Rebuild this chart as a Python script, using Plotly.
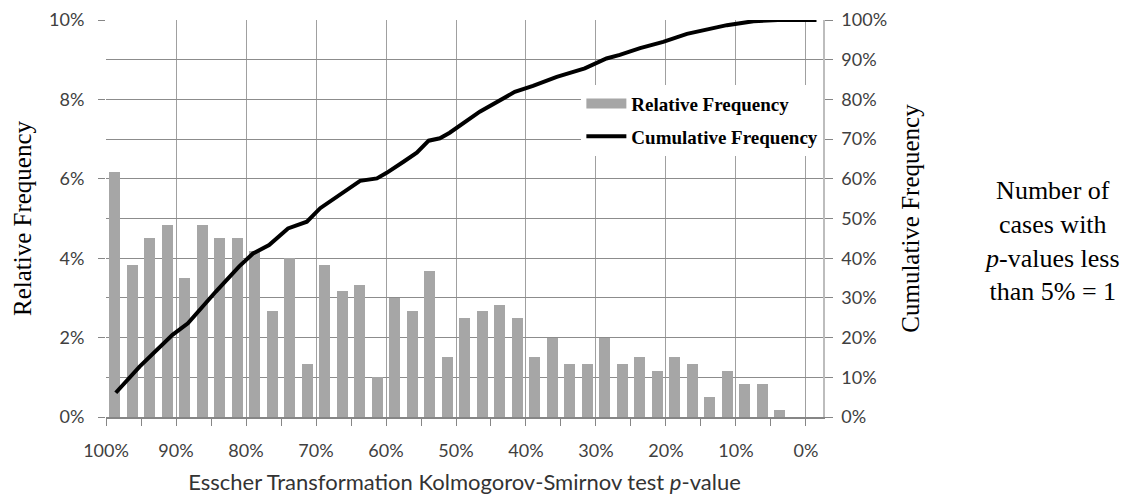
import plotly.graph_objects as go

# bin centres of the p-value histogram (in %), 2.5% wide bins
bin_centres = [98.75, 96.25, 93.75, 91.25, 88.75, 86.25, 83.75, 81.25, 78.75, 76.25,
               73.75, 71.25, 68.75, 66.25, 63.75, 61.25, 58.75, 56.25, 53.75, 51.25,
               48.75, 46.25, 43.75, 41.25, 38.75, 36.25, 33.75, 31.25, 28.75, 26.25,
               23.75, 21.25, 18.75, 16.25, 13.75, 11.25, 8.75, 6.25, 3.75, 1.25]

# relative frequency (%) per bin
rel_freq = [6.17, 3.83, 4.50, 4.83, 3.50, 4.83, 4.50, 4.50, 4.17, 2.67,
            4.00, 1.33, 3.83, 3.17, 3.33, 1.00, 3.00, 2.67, 3.67, 1.50,
            2.50, 2.67, 2.83, 2.50, 1.50, 2.00, 1.33, 1.33, 2.00, 1.33,
            1.50, 1.17, 1.50, 1.33, 0.50, 1.17, 0.83, 0.83, 0.17, 0.00]

# cumulative frequency curve (p-value %, cumulative %)
cum_p = [98.6, 95.2, 90.5, 88.3, 84.3, 81.0, 79.0, 76.7, 74.0, 71.3,
         69.4, 66.6, 63.7, 61.3, 59.9, 57.5, 55.6, 53.9, 52.3, 50.9,
         46.6, 41.6, 39.0, 35.6, 31.6, 28.5, 26.6, 23.7, 20.4, 17.0,
         11.3, 7.5, 4.0, -1.5]
cum_freq = [6.1, 12.7, 20.7, 23.6, 31.6, 37.9, 41.2, 43.3, 47.5, 49.2,
            52.6, 55.9, 59.5, 60.1, 61.5, 64.3, 66.6, 69.6, 70.2, 71.6,
            76.9, 81.9, 83.4, 85.7, 87.8, 90.3, 91.2, 92.9, 94.5, 96.5,
            98.7, 99.7, 100.0, 100.0]

BAR_GREY = "#a6a6a6"
TICK_FONT = dict(family="Lato", size=18, color="#404040")
SERIF = "Liberation Serif"

fig = go.Figure()

fig.add_trace(go.Bar(
    x=bin_centres, y=rel_freq, width=1.55,
    marker=dict(color=BAR_GREY, line=dict(width=0)),
    name="Relative Frequency", showlegend=False,
))
# legend proxy so the bar swatch is a wide grey strip like the original
fig.add_trace(go.Scatter(
    x=[None], y=[None], mode="lines",
    line=dict(color=BAR_GREY, width=10),
    name="Relative Frequency", legendgroup="rel",
))
fig.add_trace(go.Scatter(
    x=cum_p, y=cum_freq, yaxis="y2", mode="lines",
    line=dict(color="black", width=4),
    name="Cumulative Frequency", legendgroup="cum",
))

# page body has an 8px margin, so the figure is trimmed by 8px on top/left
fig.update_layout(
    width=1122, height=488,
    margin=dict(l=98, r=307, t=12, b=79),
    paper_bgcolor="white", plot_bgcolor="white",
    bargap=0,
    xaxis=dict(
        range=[100, -2.43], tick0=0, dtick=10, ticksuffix="%",
        showgrid=True, gridcolor="#a0a0a0", gridwidth=1,
        showline=True, linecolor="#868686", linewidth=1.5,
        ticks="outside", ticklen=7, tickcolor="#868686",
        minor=dict(dtick=5, ticks="outside", ticklen=7, tickcolor="#868686", showgrid=False),
        tickfont=TICK_FONT, ticklabelstandoff=10, zeroline=False, automargin=False,
        title=dict(text="Esscher Transformation Kolmogorov-Smirnov test <i>p</i>-value",
                   font=dict(family="Lato", size=22, color="#333333"), standoff=14),
    ),
    yaxis=dict(
        range=[0, 10], dtick=2, ticksuffix="%",
        showgrid=True, gridcolor="#8c8c8c", gridwidth=1,
        showline=False, zeroline=False, automargin=False,
        ticks="outside", ticklen=7, tickcolor="#868686",
        tickfont=TICK_FONT, ticklabelstandoff=10,
        title=dict(text="Relative Frequency", font=dict(family=SERIF, size=25, color="black"),
                   standoff=10),
    ),
    yaxis2=dict(
        range=[0, 100], dtick=10, ticksuffix="%", overlaying="y", side="right",
        showgrid=True, gridcolor="#8c8c8c", gridwidth=1,
        showline=True, linecolor="#bdbdbd", linewidth=1.5, zeroline=False, automargin=False,
        ticks="outside", ticklen=8, tickcolor="#868686",
        tickfont=TICK_FONT, ticklabelstandoff=5,
        title=dict(text="Cumulative Frequency", font=dict(family=SERIF, size=25, color="black"),
                   standoff=15),
    ),
    legend=dict(
        x=0.663, y=0.837, xanchor="left", yanchor="top",
        bgcolor="white", borderwidth=0,
        font=dict(family=SERIF, size=19, color="black", weight="bold"),
        itemwidth=40, tracegroupgap=5,
    ),
    annotations=[dict(
        xref="paper", yref="paper", x=1.319, y=0.443,
        xanchor="center", yanchor="middle",
        text="Number of<br>cases with<br><i>p</i>-values less<br>than 5% = 1",
        showarrow=False, align="center",
        font=dict(family=SERIF, size=26, color="black"),
    )],
)

fig.write_html("out.html")
